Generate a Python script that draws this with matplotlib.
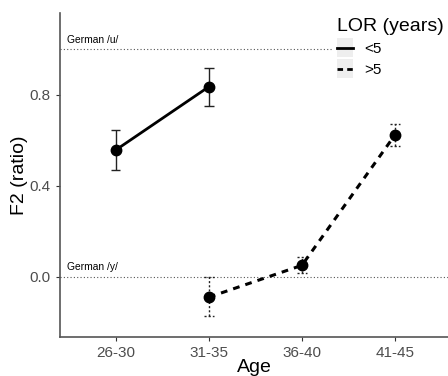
import matplotlib
matplotlib.use("Agg")
import matplotlib.pyplot as plt
from matplotlib.lines import Line2D
from matplotlib.patches import Rectangle
from matplotlib.legend_handler import HandlerLine2D

plt.rcParams['font.family'] = ['Liberation Sans', 'DejaVu Sans']

ages = ["26-30", "31-35", "36-40", "41-45"]

# LOR < 5 years
lt5_x = [1, 2]
lt5_y = [0.558, 0.836]
lt5_lo = [0.469, 0.753]
lt5_hi = [0.647, 0.917]

# LOR > 5 years
gt5_x = [2, 3, 4]
gt5_y = [-0.089, 0.051, 0.624]
gt5_lo = [-0.171, 0.016, 0.577]
gt5_hi = [0.0, 0.089, 0.672]

ref_u = 1.0
ref_y = 0.0

W, H = 448, 376
dpi = 100
fig = plt.figure(figsize=(W / dpi, H / dpi), dpi=dpi)
ax = fig.add_axes([60 / W, 1 - 337 / H, 1 - 60 / W, (337 - 13) / H])

axis_col = '#4D4D4D'
# reference lines
ax.axhline(ref_u, color='#555555', lw=0.8, ls=(0, (1, 2)), zorder=1)
ax.axhline(ref_y, color='#555555', lw=0.8, ls=(0, (1, 2)), zorder=1)
ax.text(0.48, ref_u + 0.02, "German /u/", fontsize=7.4, ha='left', va='bottom', color='black')
ax.text(0.48, ref_y + 0.02, "German /y/", fontsize=7.4, ha='left', va='bottom', color='black')

capw = 0.05
# error bars <5
for x, lo, hi in zip(lt5_x, lt5_lo, lt5_hi):
    ax.vlines(x, lo, hi, color='#222222', lw=1.0, zorder=2)
    ax.hlines([lo, hi], x - capw, x + capw, color='#222222', lw=1.0, zorder=2)
# error bars >5 (dashed thin -> dotted look)
for x, lo, hi in zip(gt5_x, gt5_lo, gt5_hi):
    ax.vlines(x, lo, hi, color='#222222', lw=1.0, ls=(0, (1.5, 1.5)), zorder=2)
    ax.hlines([lo, hi], x - capw, x + capw, color='#222222', lw=1.0, ls=(0, (1.5, 1.5)), zorder=2)

ax.plot(lt5_x, lt5_y, color='black', lw=2.0, ls='-', zorder=3)
ax.plot(gt5_x, gt5_y, color='black', lw=2.2, ls=(0, (2.2, 2.0)), zorder=3)
ax.plot(lt5_x, lt5_y, 'o', color='black', ms=7.5, zorder=4)
ax.plot(gt5_x, gt5_y, 'o', color='black', ms=7.5, zorder=4)

ax.set_xlim(0.4, 4.57)
ax.set_ylim(-0.264, 1.160)
ax.set_xticks(range(1, len(ages) + 1))
ax.set_xticklabels(ages)
ax.set_yticks([0.0, 0.4, 0.8])
ax.set_yticklabels(["0.0", "0.4", "0.8"])
ax.tick_params(axis='both', colors='#333333', labelcolor=axis_col, labelsize=11, length=3, width=0.8)
for s in ['top', 'right']:
    ax.spines[s].set_visible(False)
for s in ['left', 'bottom']:
    ax.spines[s].set_color('#555555')
    ax.spines[s].set_linewidth(1.2)
ax.set_xlabel("Age", fontsize=14, labelpad=-1)
ax.set_ylabel("F2 (ratio)", fontsize=14, labelpad=1)


class KeyHandler(HandlerLine2D):
    def create_artists(self, legend, orig_handle, xdescent, ydescent, width, height, fontsize, trans):
        rect = Rectangle((-xdescent, -ydescent - 3), width, height + 6,
                         facecolor='#EEEEEE', edgecolor='none', transform=trans)
        arts = super().create_artists(legend, orig_handle, xdescent, ydescent, width, height, fontsize, trans)
        return [rect] + list(arts)


h1 = Line2D([], [], color='black', lw=2.0, ls='-')
h2 = Line2D([], [], color='black', lw=2.0, ls=(0, (2.0, 1.5)))
leg = ax.legend([h1, h2], ["<5", ">5"], title="LOR (years)", loc='upper left',
                bbox_to_anchor=(325 / W, 1 - 6 / H), bbox_transform=fig.transFigure,
                frameon=True, fontsize=11, title_fontsize=14, handlelength=1.0,
                handletextpad=0.8, labelspacing=0.45, borderpad=0.3,
                handler_map={Line2D: KeyHandler()})
leg.get_frame().set_facecolor('white')
leg.get_frame().set_edgecolor('none')
leg.get_frame().set_alpha(1)
leg._legend_box.align = "left"
leg.set_zorder(5)

fig.savefig("out.png", dpi=dpi)
